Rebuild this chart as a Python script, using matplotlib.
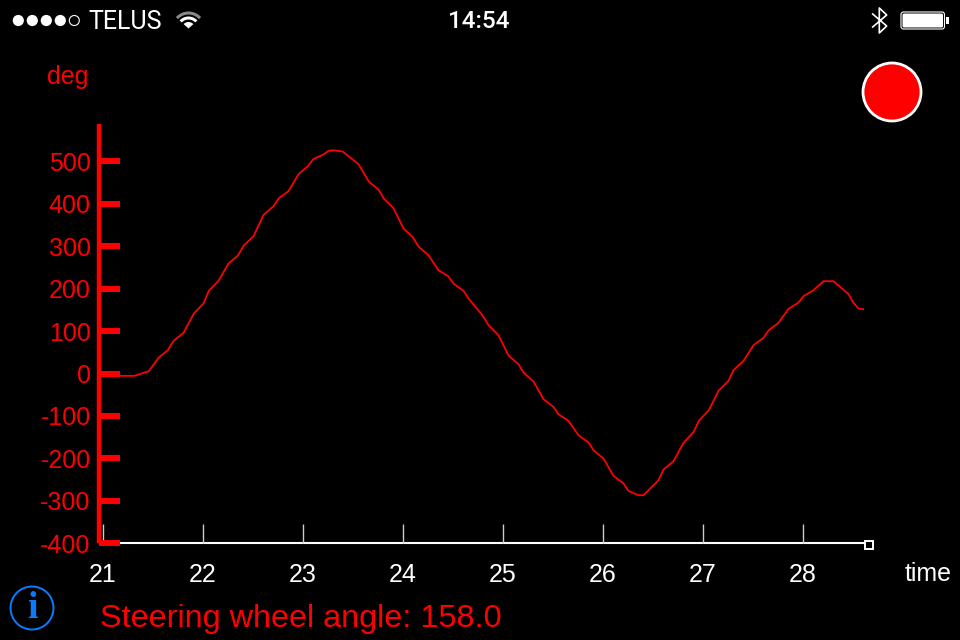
import matplotlib
matplotlib.use("Agg")
from matplotlib import pyplot as plt
from matplotlib.patches import Circle, Wedge, FancyBboxPatch, Rectangle

# steering wheel angle
time = [21.0, 21.17, 21.32, 21.463, 21.563, 21.653, 21.71, 21.81, 21.913, 22.01,
        22.063, 22.16, 22.26, 22.353, 22.413, 22.51, 22.61, 22.71, 22.763, 22.86,
        22.96, 23.053, 23.11, 23.203, 23.26, 23.31, 23.403, 23.56, 23.663, 23.76,
        23.813, 23.91, 24.01, 24.103, 24.163, 24.26, 24.36, 24.457, 24.51, 24.61,
        24.663, 24.803, 24.86, 24.96, 25.06, 25.16, 25.21, 25.31, 25.41, 25.51,
        25.56, 25.66, 25.76, 25.86, 25.913, 26.01, 26.11, 26.21, 26.26, 26.36,
        26.41, 26.56, 26.61, 26.71, 26.81, 26.91, 26.963, 27.063, 27.16, 27.26,
        27.31, 27.41, 27.51, 27.61, 27.66, 27.76, 27.86, 27.96, 28.01, 28.11,
        28.21, 28.31, 28.46, 28.51, 28.56, 28.607]
angle = [-5, -5.5, -5.5, 5.5, 37.7, 54.9, 76.9, 95.7, 141.3, 164.9,
         194.7, 218.2, 259.1, 277.9, 301.5, 323.5, 373.7, 394.1, 413, 429.5,
         469.5, 488.4, 505.6, 515.1, 524.5, 526, 522.9, 493.1, 452.2, 433.4,
         412.2, 389.4, 341.5, 321.1, 298.3, 278.7, 243.4, 229.2, 212, 194.7,
         175.8, 136, 113.8, 90.2, 42.3, 21.9, 2.3, -18.9, -60.5, -78.6,
         -95.9, -111.6, -145.4, -162.6, -181.5, -200.3, -241.1, -259.2, -276.5, -286.7,
         -286.7, -251.3, -226.2, -206.6, -163.3, -138.2, -111.5, -86.4, -40.8, -17.3,
         7.8, 29.8, 66.7, 84, 101.3, 119.3, 152.3, 167.2, 182.2, 196.3,
         217.5, 217.5, 186.9, 166.4, 153.1, 151.5]
x_ticks = [21, 22, 23, 24, 25, 26, 27, 28]
y_ticks = [500, 400, 300, 200, 100, 0, -100, -200, -300, -400]

FONT = "Liberation Sans"
RED = "#ff0000"
BLUE = "#0a7aff"

plt.rcParams["font.family"] = FONT
fig = plt.figure(figsize=(9.6, 6.4), dpi=100, facecolor="black")

# main chart
ax = fig.add_axes([102.5 / 960, (640 - 543.3) / 640, (869 - 102.5) / 960, (543.3 - 124) / 640])
ax.set_facecolor("black")
ax.set_axisbelow(False)
ax.plot(time, angle, color=RED, linewidth=1.3, clip_on=False)
ax.set_xlim(21, 28.665)
ax.set_ylim(-400, 587.8)
for side in ["top", "right"]:
    ax.spines[side].set_visible(False)
ax.spines["left"].set_color(RED)
ax.spines["left"].set_linewidth(3.2)
ax.spines["left"].set_capstyle("butt")
ax.spines["left"].set_position(("outward", 2.5))
ax.spines["bottom"].set_color("white")
ax.spines["bottom"].set_linewidth(1.5)
ax.spines["bottom"].set_zorder(1)
ax.set_xticks(x_ticks)
ax.set_yticks(y_ticks)
ax.set_yticklabels([str(v) for v in y_ticks])
ax.tick_params(axis="x", direction="in", length=14, width=1, color="#cccccc",
               labelcolor="white", labelsize=18, pad=14)
ax.tick_params(axis="y", direction="in", length=15, width=4.3, color=RED,
               labelcolor=RED, labelsize=18, pad=6)

# everything around the chart goes on a screen sized overlay
ui = fig.add_axes([0, 0, 1, 1])
ui.set_xlim(0, 960)
ui.set_ylim(640, 0)
ui.axis("off")
ui.patch.set_alpha(0)

ui.text(68, 77, "deg", color=RED, fontsize=18, ha="center", va="center")
ui.text(928, 574, "time", color="white", fontsize=18, ha="center", va="center")
ui.text(100, 619, "Steering wheel angle: 158.0", color=RED, fontsize=23.3, ha="left", va="center")
ui.add_patch(Rectangle((865, 541), 8, 8, facecolor="black", edgecolor="white", linewidth=1.4))

# record button and info icon
ui.add_patch(Circle((892, 92), 29, facecolor=RED, edgecolor="white", linewidth=2))
ui.add_patch(Circle((32, 608), 21.5, facecolor="none", edgecolor=BLUE, linewidth=1.4))
ui.text(32, 608, "i", color=BLUE, fontsize=27, family="Liberation Serif", weight="bold",
        ha="center", va="center")

# status bar
for i, cx in enumerate([18.3, 32.3, 46.3, 60.3]):
    ui.add_patch(Circle((cx, 20.5), 5.6, facecolor="white", edgecolor="none"))
ui.add_patch(Circle((74.3, 20.5), 5, facecolor="none", edgecolor="white", linewidth=0.8))
ui.text(88, 22, "TELUS", color="white", fontsize=18, family="Roboto", ha="left", va="center")
ui.text(479, 22, "14:54", color="white", fontsize=17.5, family="Roboto", weight="medium",
        ha="center", va="center")

ui.add_patch(Wedge((188.5, 28.5), 17, 222, 318, width=3, facecolor="#8a8a8a", edgecolor="none"))
ui.add_patch(Wedge((188.5, 28.5), 12, 222, 318, width=3, facecolor="white", edgecolor="none"))
ui.add_patch(Wedge((188.5, 28.5), 6.5, 222, 318, facecolor="white", edgecolor="none"))

ui.plot([872.7, 886.7, 879.3, 879.3, 886.7, 872.7],
        [14, 26, 33, 8, 15, 27], color="white", linewidth=1.2)

ui.add_patch(FancyBboxPatch((901, 12), 43.5, 17, boxstyle="round,pad=0,rounding_size=2.5",
                            facecolor="black", edgecolor="white", linewidth=0.8))
ui.add_patch(FancyBboxPatch((902.5, 13.5), 40.5, 14, boxstyle="round,pad=0,rounding_size=1.5",
                            facecolor="white", edgecolor="none"))
ui.add_patch(Rectangle((946, 17.3), 3, 6.5, facecolor="white", edgecolor="none"))

fig.savefig("out.png", dpi=100, facecolor="black")
